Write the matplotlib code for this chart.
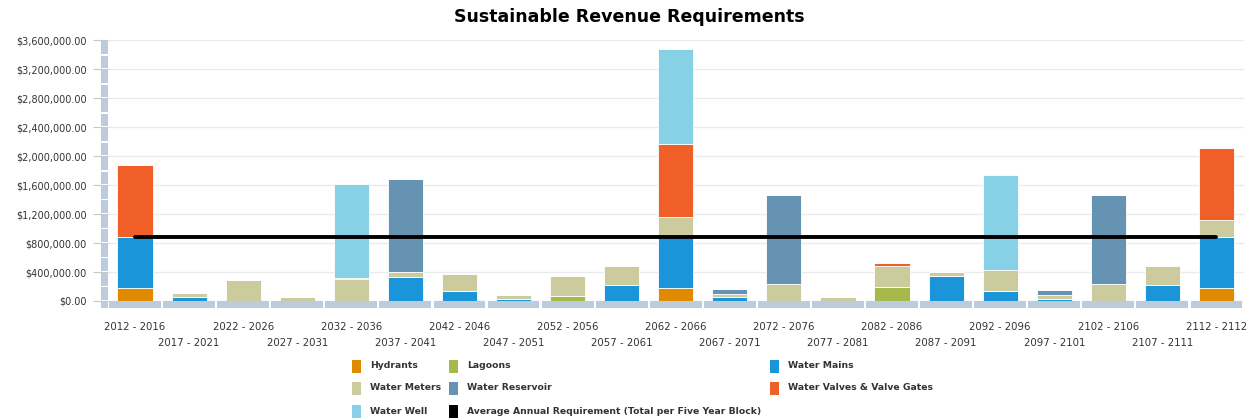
import matplotlib
matplotlib.use("Agg")
import matplotlib.pyplot as plt
from matplotlib.patches import Rectangle

plt.rcParams["font.family"] = ["DejaVu Sans"]

periods = [
    "2012 - 2016", "2017 - 2021", "2022 - 2026", "2027 - 2031", "2032 - 2036",
    "2037 - 2041", "2042 - 2046", "2047 - 2051", "2052 - 2056", "2057 - 2061",
    "2062 - 2066", "2067 - 2071", "2072 - 2076", "2077 - 2081", "2082 - 2086",
    "2087 - 2091", "2092 - 2096", "2097 - 2101", "2102 - 2106", "2107 - 2111",
    "2112 - 2112",
]

# stacked bottom to top
hydrants = [180000, 0, 0, 0, 0, 0, 0, 0, 0, 0, 180000, 0, 0, 0, 0, 0, 0, 0, 0, 0, 180000]
lagoons = [0, 0, 0, 0, 0, 0, 0, 0, 69000, 0, 0, 0, 0, 0, 198000, 0, 0, 0, 0, 0, 0]
water_mains = [700000, 50000, 0, 0, 0, 336000, 138000, 28000, 0, 216000, 700000, 50000,
               0, 0, 0, 341000, 138000, 28000, 0, 216000, 700000]
water_meters = [0, 55000, 285000, 55000, 299000, 60000, 230000, 50000, 281000, 263000,
                286000, 51000, 230000, 55000, 290000, 55000, 286000, 50000, 230000, 263000,
                235000]
water_reservoir = [0, 0, 0, 0, 0, 1289000, 0, 0, 0, 0, 0, 69000, 1234000, 0, 0, 0, 0,
                   74000, 1234000, 0, 0]
water_valves = [1000000, 0, 0, 0, 23000, 0, 0, 0, 0, 0, 1000000, 0, 0, 0, 32000, 0, 0,
                0, 0, 0, 1000000]
water_well = [0, 0, 0, 0, 1298000, 0, 0, 0, 0, 0, 1307000, 0, 0, 0, 0, 0, 1312000, 0, 0,
              0, 0]
average_req = [884000] * 21

series_names = ["Hydrants", "Lagoons", "Water Mains", "Water Meters", "Water Reservoir",
                "Water Valves & Valve Gates", "Water Well"]
series_values = [hydrants, lagoons, water_mains, water_meters, water_reservoir,
                 water_valves, water_well]
series_colors = ["#E08A00", "#A5BA4B", "#1B95D9", "#CBCB9E", "#6793B3", "#F05F28", "#87D1E6"]
avg_name = "Average Annual Requirement (Total per Five Year Block)"

y_ticks = [0, 400000, 800000, 1200000, 1600000, 2000000, 2400000, 2800000, 3200000, 3600000]

W, H = 1255, 420
fig = plt.figure(figsize=(W / 100, H / 100), dpi=100)
ax = fig.add_axes([108 / W, (H - 301) / H, 1135.5 / W, 260.7 / H])
ax.set_axisbelow(True)

x = list(range(len(periods)))
bottom = [0] * len(periods)
for name, vals, col in zip(series_names, series_values, series_colors):
    ax.bar(x, vals, width=0.65, bottom=bottom, color=col, edgecolor="white",
           linewidth=0.6, zorder=2)
    bottom = [b + v for b, v in zip(bottom, vals)]

ax.plot(x, average_req, color="black", linewidth=2.8, solid_capstyle="round", zorder=4)

ax.set_xlim(-0.5, len(periods) - 0.5)
ax.set_ylim(0, 3600000)
ax.set_yticks(y_ticks)
ax.set_yticklabels(["${:,.2f}".format(v) for v in y_ticks], fontsize=7, color="#333333")
ax.tick_params(axis="y", length=11, width=0.8, color="#C8C8C8", pad=4.5)
ax.grid(axis="y", color="#EBEBEB", linewidth=1)
for s in ax.spines.values():
    s.set_visible(False)

ax.set_xticks(x)
ax.set_xticklabels(periods, fontsize=7.3, color="#333333")
ax.tick_params(axis="x", length=0)
for i, t in enumerate(ax.xaxis.get_major_ticks()):
    t.set_pad(15 if i % 2 == 0 else 27)

# grey axis bands
band = "#BCCCDC"
xt = ax.get_xaxis_transform()
for i in x:
    ax.add_patch(Rectangle((i - 0.5 + 0.02, -0.027), 0.96, 0.027, transform=xt,
                           facecolor=band, edgecolor="none", clip_on=False, zorder=3))
yt = ax.get_yaxis_transform()
seg = 200000
for k in range(18):
    ax.add_patch(Rectangle((-0.0062, k * seg + 12000), 0.0062, seg - 24000, transform=yt,
                           facecolor=band, edgecolor="none", clip_on=False, zorder=3))
ax.add_patch(Rectangle((-0.0062, -0.027), 0.0062, 0.024, transform=ax.transAxes,
                       facecolor=band, edgecolor="none", clip_on=False, zorder=3))

fig.text(629 / W, 1 - 17 / H, "Sustainable Revenue Requirements", ha="center",
         va="center", fontsize=12.5, fontweight="bold", color="black")

# legend
legend_cols = [352, 449, 770]
legend_rows = [366, 388, 411]
entries = list(zip(series_names, series_colors)) + [(avg_name, "black")]
for idx, (name, col) in enumerate(entries):
    r, c = divmod(idx, 3)
    lx, ly = legend_cols[c], legend_rows[r]
    fig.add_artist(Rectangle((lx / W, 1 - (ly + 6.5) / H), 9 / W, 13 / H,
                             transform=fig.transFigure, facecolor=col, edgecolor="none"))
    fig.text((lx + 18) / W, 1 - ly / H, name, ha="left", va="center", fontsize=6.7,
             fontweight="bold", color="#333333")

fig.savefig("out.png", dpi=100)
